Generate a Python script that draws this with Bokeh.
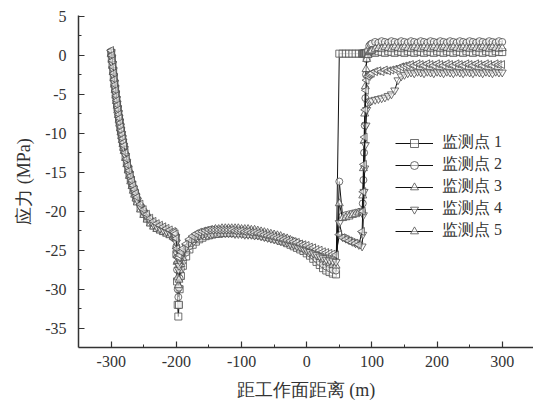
import math
from bokeh.plotting import figure
from bokeh.models import Legend, LegendItem, FixedTicker, Range1d
from bokeh.embed import file_html
from bokeh.resources import INLINE

# distance from working face (m), sampled more finely where the stress changes fast
xa = list(range(-300, -279, 1))                 # 21
xb = list(range(-278, -259, 2))                 # 10
xc = list(range(-255, -204, 5))                 # 11
xd = [-203, -201, -200, -199, -198, -197, -196, -195, -193, -190]
xe = list(range(-185, 86, 5))                   # 55
xf = [86, 87, 88, 89, 90, 91, 92, 94, 96, 98]
xg = list(range(100, 301, 5))                   # 41
distance = xa + xb + xc + xd + xe + xf + xg

# stress (MPa) of each monitoring point
s1 = ([0.3, -0.4, -1.2, -2.0, -2.8, -3.6, -4.3, -5.0, -5.7, -6.3, -6.9, -7.5, -8.1, -8.6,
       -9.2, -9.7, -10.2, -10.7, -11.2, -11.7, -12.1]
      + [-13.0, -13.8, -14.6, -15.3, -16.0, -16.6, -17.2, -17.7, -18.2, -18.7]
      + [-19.6, -20.3, -20.9, -21.4, -21.8, -22.1, -22.3, -22.5, -22.7, -22.9, -23.1]
      + [-23.2, -23.4, -25.5, -29.0, -32.0, -33.5, -32.0, -30.0, -28.3, -27.0]
      + [-25.8, -24.9, -24.3, -23.9, -23.6, -23.4, -23.2, -23.1, -23.0, -22.9,
         -22.9, -22.8, -22.8, -22.8, -22.8, -22.8, -22.8, -22.8, -22.9, -22.9,
         -22.9, -23.0, -23.0, -23.1, -23.2, -23.3, -23.4, -23.5, -23.6, -23.8,
         -23.9, -24.1, -24.3, -24.5, -24.7, -24.9, -25.1, -25.4, -25.7, -26.1,
         -26.5, -26.9, -27.3, -27.6, -27.8, -28.0, -28.1, 0.2, 0.2, 0.2,
         0.2, 0.2, 0.2, 0.2, 0.2]
      + [0.2, 0.2, 0.2, 0.2, 0.2, 0.2, 0.3, 0.3, 0.4, 0.4]
      + [0.4, 0.3, 0.5, 0.4, 0.3, 0.5, 0.4, 0.3, 0.5, 0.4,
         0.3, 0.5, 0.4, 0.3, 0.5, 0.4, 0.3, 0.5, 0.4, 0.3,
         0.5, 0.4, 0.3, 0.5, 0.4, 0.3, 0.5, 0.4, 0.3, 0.5,
         0.4, 0.3, 0.5, 0.4, 0.3, 0.5, 0.4, 0.3, 0.5, 0.4, 0.4])

s2 = ([0.5, -0.1, -0.9, -1.7, -2.5, -3.3, -4.0, -4.7, -5.4, -6.0, -6.6, -7.2, -7.8, -8.3,
       -8.9, -9.4, -9.9, -10.4, -10.9, -11.4, -11.8]
      + [-12.7, -13.5, -14.3, -15.0, -15.7, -16.3, -16.9, -17.4, -17.9, -18.4]
      + [-19.3, -20.0, -20.6, -21.1, -21.5, -21.8, -22.0, -22.2, -22.4, -22.6, -22.8]
      + [-22.9, -23.1, -24.5, -27.5, -30.0, -31.0, -29.8, -28.6, -27.4, -26.4]
      + [-25.3, -24.5, -23.9, -23.5, -23.2, -23.0, -22.8, -22.7, -22.6, -22.6,
         -22.5, -22.5, -22.5, -22.4, -22.4, -22.4, -22.4, -22.5, -22.5, -22.5,
         -22.6, -22.6, -22.7, -22.8, -22.9, -23.0, -23.1, -23.2, -23.3, -23.4,
         -23.6, -23.8, -24.0, -24.2, -24.4, -24.6, -24.8, -25.1, -25.4, -25.7,
         -26.1, -26.5, -26.8, -27.1, -27.3, -27.5, -27.6, -16.2, -20.6, -20.5,
         -20.4, -20.3, -20.2, -20.1, -20.0]
      + [-19.0, -16.0, -12.5, -9.0, -5.5, -2.5, -0.5, 0.6, 1.2, 1.4]
      + [1.5, 1.7, 1.6, 1.8, 1.7, 1.6, 1.8, 1.7, 1.6, 1.8,
         1.7, 1.6, 1.8, 1.7, 1.6, 1.8, 1.7, 1.6, 1.8, 1.7,
         1.6, 1.8, 1.7, 1.6, 1.8, 1.7, 1.6, 1.8, 1.7, 1.6,
         1.8, 1.7, 1.6, 1.8, 1.7, 1.6, 1.8, 1.7, 1.6, 1.8, 1.7])

s3 = ([0.1, -0.6, -1.4, -2.2, -3.0, -3.8, -4.5, -5.2, -5.9, -6.5, -7.1, -7.7, -8.3, -8.8,
       -9.4, -9.9, -10.4, -10.9, -11.4, -11.9, -12.3]
      + [-13.2, -14.0, -14.8, -15.5, -16.2, -16.8, -17.4, -17.9, -18.4, -18.9]
      + [-19.8, -20.5, -21.1, -21.6, -22.0, -22.3, -22.5, -22.7, -22.9, -23.1, -23.3]
      + [-23.4, -23.5, -24.5, -26.5, -28.5, -29.5, -28.8, -27.6, -26.8, -26.0]
      + [-24.9, -24.2, -23.7, -23.3, -23.0, -22.8, -22.6, -22.5, -22.4, -22.3,
         -22.3, -22.2, -22.2, -22.2, -22.2, -22.2, -22.2, -22.3, -22.3, -22.3,
         -22.4, -22.4, -22.5, -22.6, -22.7, -22.8, -22.9, -23.0, -23.1, -23.2,
         -23.4, -23.5, -23.7, -23.9, -24.1, -24.3, -24.5, -24.8, -25.0, -25.3,
         -25.6, -25.9, -26.2, -26.5, -26.7, -26.9, -27.0, -19.0, -20.9, -20.8,
         -20.7, -20.5, -20.4, -20.2, -20.1]
      + [-18.0, -14.5, -11.0, -7.5, -4.0, -1.8, -0.5, 0.0, 0.4, 0.5]
      + [0.6, 0.8, 0.9, 0.8, 1.0, 0.9, 0.8, 1.0, 0.9, 0.8,
         1.0, 0.9, 0.8, 1.0, 0.9, 0.8, 1.0, 0.9, 0.8, 1.0,
         0.9, 0.8, 1.0, 0.9, 0.8, 1.0, 0.9, 0.8, 1.0, 0.9,
         0.8, 1.0, 0.9, 0.8, 1.0, 0.9, 0.8, 1.0, 0.9, 0.8, 0.9])

s4 = ([0.4, -0.3, -1.1, -1.9, -2.7, -3.5, -4.2, -4.9, -5.6, -6.2, -6.8, -7.4, -8.0, -8.5,
       -9.1, -9.6, -10.1, -10.6, -11.1, -11.6, -12.0]
      + [-12.9, -13.7, -14.5, -15.2, -15.9, -16.5, -17.1, -17.6, -18.1, -18.6]
      + [-19.5, -20.2, -20.8, -21.3, -21.7, -22.0, -22.2, -22.4, -22.6, -22.8, -23.0]
      + [-23.1, -23.3, -24.0, -25.5, -26.8, -27.5, -27.0, -26.4, -25.8, -25.2]
      + [-24.6, -24.0, -23.6, -23.3, -23.1, -23.0, -22.9, -22.9, -22.9, -22.8,
         -22.8, -22.8, -22.8, -22.8, -22.8, -22.9, -22.9, -22.9, -23.0, -23.0,
         -23.0, -23.1, -23.1, -23.2, -23.3, -23.4, -23.5, -23.6, -23.7, -23.8,
         -23.9, -24.0, -24.2, -24.3, -24.5, -24.6, -24.8, -25.0, -25.2, -25.4,
         -25.6, -25.8, -26.0, -26.2, -26.3, -26.4, -26.5, -21.5, -23.3, -23.5,
         -23.7, -23.9, -24.1, -24.3, -24.5]
      + [-23.0, -20.5, -17.5, -14.5, -11.5, -9.0, -7.0, -6.3, -6.0, -5.9]
      + [-5.8, -5.7, -5.6, -5.5, -5.4, -5.2, -5.0, -4.5, -3.2, -2.7,
         -2.5, -2.3, -2.2, -2.3, -2.1, -2.2, -2.3, -2.1, -2.2, -2.3,
         -2.1, -2.2, -2.3, -2.1, -2.2, -2.3, -2.1, -2.2, -2.3, -2.1,
         -2.2, -2.3, -2.1, -2.2, -2.3, -2.1, -2.2, -2.3, -2.1, -2.2, -2.2])

s5 = ([0.6, 0.0, -0.7, -1.5, -2.3, -3.1, -3.8, -4.5, -5.2, -5.8, -6.4, -7.0, -7.6, -8.1,
       -8.7, -9.2, -9.7, -10.2, -10.7, -11.2, -11.6]
      + [-12.5, -13.3, -14.1, -14.8, -15.5, -16.1, -16.7, -17.2, -17.7, -18.2]
      + [-19.1, -19.8, -20.4, -20.9, -21.3, -21.6, -21.8, -22.0, -22.2, -22.4, -22.6]
      + [-22.7, -22.9, -23.5, -24.8, -25.8, -26.0, -25.9, -25.6, -25.2, -24.8]
      + [-24.2, -23.6, -23.2, -22.9, -22.7, -22.6, -22.5, -22.4, -22.4, -22.4,
         -22.4, -22.4, -22.4, -22.4, -22.4, -22.5, -22.5, -22.5, -22.6, -22.6,
         -22.7, -22.7, -22.8, -22.9, -23.0, -23.1, -23.2, -23.3, -23.4, -23.5,
         -23.6, -23.7, -23.8, -23.9, -24.0, -24.2, -24.3, -24.4, -24.6, -24.7,
         -24.9, -25.0, -25.2, -25.3, -25.4, -25.5, -25.6, -23.0, -23.4, -23.6,
         -23.8, -24.0, -24.1, -24.3, -22.6]
      + [-20.0, -17.5, -14.0, -10.5, -7.0, -4.5, -3.2, -2.7, -2.5, -2.4]
      + [-2.3, -2.1, -2.0, -2.1, -1.9, -2.0, -1.9, -1.8, -1.7, -1.5,
         -1.4, -1.3, -1.2, -1.3, -1.1, -1.2, -1.3, -1.1, -1.2, -1.3,
         -1.1, -1.2, -1.3, -1.1, -1.2, -1.3, -1.1, -1.2, -1.3, -1.1,
         -1.2, -1.3, -1.1, -1.2, -1.3, -1.1, -1.2, -1.3, -1.1, -1.2, -1.2])

series = [s1, s2, s3, s4, s5]
for i, s in enumerate(series):
    assert len(s) == len(distance), (i, len(s), len(distance))

labels = ["监测点 1", "监测点 2", "监测点 3", "监测点 4", "监测点 5"]
markers = ["square", "circle", "triangle", "inverted_triangle", "triangle"]
angles = [0, 0, 0, 0, math.pi / 2]
sizes = [7, 7, 8, 8, 8]

x_ticks = [-300, -200, -100, 0, 100, 200, 300]
x_minor = [-250, -150, -50, 50, 150, 250]
y_ticks = [-35, -30, -25, -20, -15, -10, -5, 0, 5]
y_minor = [-32.5, -27.5, -22.5, -17.5, -12.5, -7.5, -2.5, 2.5]

FONT = "Liberation Serif"
TXT = "#333333"

p = figure(width=533, height=412, output_backend="svg", toolbar_location=None,
           x_range=Range1d(-350.2, 348.0), y_range=Range1d(-37.47, 5.09),
           min_border_left=78, min_border_right=0, min_border_top=15,
           min_border_bottom=65)
p.outline_line_color = None
p.xgrid.visible = False
p.ygrid.visible = False
p.background_fill_color = "white"

items = []
for ys, lab, mk, ang, sz in zip(series, labels, markers, angles, sizes):
    lr = p.line(distance, ys, line_color="#111111", line_width=1)
    sr = p.scatter(distance, ys, marker=mk, angle=ang, size=sz,
                   fill_color="white", fill_alpha=0.6,
                   line_color="#4d4d4d", line_width=0.8)
    items.append(LegendItem(label=lab, renderers=[lr, sr]))

legend = Legend(items=items, location=(317, 106))
legend.padding = 0
legend.margin = 0
legend.spacing = 1
legend.glyph_width = 38
legend.glyph_height = 20
legend.label_height = 20
legend.label_standoff = 9
legend.border_line_color = None
legend.background_fill_alpha = 0
legend.label_text_font = FONT
legend.label_text_font_size = "16px"
legend.label_text_color = TXT
p.add_layout(legend)

for ax in (p.xaxis[0], p.yaxis[0]):
    ax.axis_line_color = TXT
    ax.axis_line_width = 1.5
    ax.major_tick_line_color = TXT
    ax.minor_tick_line_color = TXT
    ax.major_tick_line_width = 1.2
    ax.major_tick_in = 6
    ax.major_tick_out = 0
    ax.minor_tick_in = 3
    ax.minor_tick_out = 0
    ax.major_label_text_font = FONT
    ax.major_label_text_font_size = "16px"
    ax.major_label_text_color = TXT
    ax.axis_label_text_font = FONT
    ax.axis_label_text_font_size = "18px"
    ax.axis_label_text_font_style = "normal"
    ax.axis_label_text_color = TXT

p.xaxis.ticker = FixedTicker(ticks=x_ticks, minor_ticks=x_minor)
p.yaxis.ticker = FixedTicker(ticks=y_ticks, minor_ticks=y_minor)
p.xaxis.major_label_overrides = {t: str(t) for t in x_ticks}
p.yaxis.major_label_overrides = {t: str(t) for t in y_ticks}
p.xaxis.axis_label = "距工作面距离 (m)"
p.yaxis.axis_label = "应力 (MPa)"
p.xaxis.major_label_standoff = 8
p.xaxis.axis_label_standoff = 10
p.yaxis.major_label_standoff = 12
p.yaxis.axis_label_standoff = 8

open("out.html", "w").write(file_html(p, INLINE))
